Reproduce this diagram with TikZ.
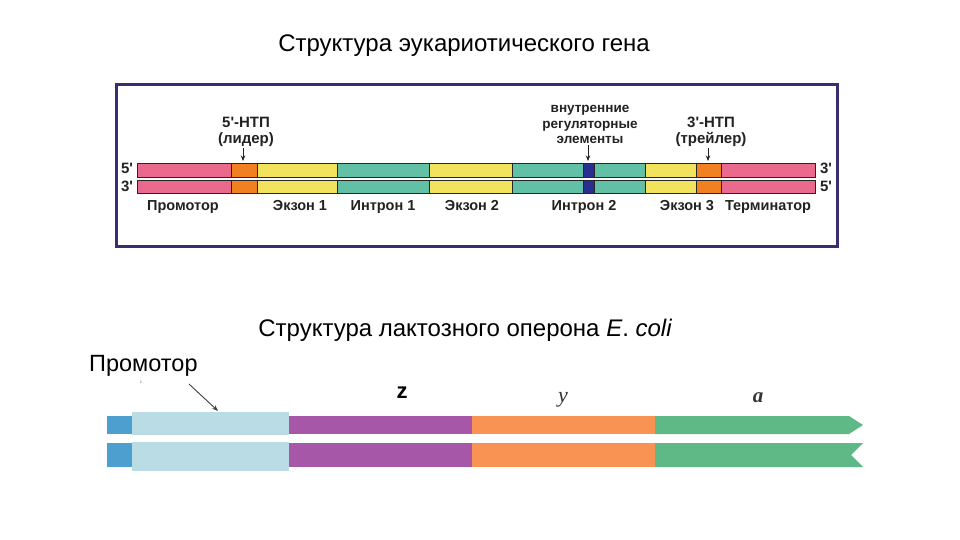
\documentclass[tikz,border=0pt]{standalone}
\usepackage{fontspec}
\setmainfont{Liberation Sans}
\newfontfamily\gsans{Liberation Sans}
\newfontfamily\serifit{Liberation Serif}
\usetikzlibrary{arrows.meta}
\definecolor{frame}{HTML}{3A2F6E}
\definecolor{gpink}{HTML}{EA6A8E}
\definecolor{gorange}{HTML}{F08020}
\definecolor{gyellow}{HTML}{F2E25E}
\definecolor{gteal}{HTML}{62C0A6}
\definecolor{gnavy}{HTML}{2A2E8E}
\definecolor{lblue}{HTML}{4C9FCF}
\definecolor{lpale}{HTML}{BADDE5}
\definecolor{lpurple}{HTML}{A657A8}
\definecolor{lorange}{HTML}{F99354}
\definecolor{lgreen}{HTML}{5EB986}
\definecolor{txt}{HTML}{222222}
\tikzset{
  seg/.style={draw=black!85,line width=0.6pt},
  title/.style={font=\fontsize{24}{26}\selectfont,inner sep=0pt,anchor=base},
  glabel/.style={font=\gsans\bfseries\fontsize{14.5}{17}\selectfont,text=txt,inner sep=0pt,anchor=base},
  slabel/.style={font=\gsans\bfseries\fontsize{13.5}{16}\selectfont,text=txt,inner sep=0pt,anchor=base},
  tlabel/.style={font=\gsans\bfseries\fontsize{15}{17}\selectfont,text=txt,inner sep=0pt,anchor=base},
  pointer/.style={-{Stealth[length=5.5pt,width=4.5pt]},line width=1pt,draw=txt},
}
\begin{document}
\begin{tikzpicture}[x=1pt,y=-1pt]
\useasboundingbox (0,0) rectangle (960,540);
\fill[white] (0,0) rectangle (960,540);
% ---------- titles
\node[title] (t1) at (464,52) {Структура эукариотического гена};
\node[title] (t2) at (465,336) {Структура лактозного оперона {\itshape E}. {\itshape coli}};
% ---------- frame
\draw[frame,line width=3pt,fill=white] (116,85) rectangle (837,246);
% ---------- eukaryotic gene strands
\foreach \ya/\yb in {163/177,180/193}{
  \filldraw[seg,fill=gpink]   (137,\ya) rectangle (231,\yb);
  \filldraw[seg,fill=gorange] (231,\ya) rectangle (257,\yb);
  \filldraw[seg,fill=gyellow] (257,\ya) rectangle (337,\yb);
  \filldraw[seg,fill=gteal]   (337,\ya) rectangle (429,\yb);
  \filldraw[seg,fill=gyellow] (429,\ya) rectangle (512,\yb);
  \filldraw[seg,fill=gteal]   (512,\ya) rectangle (583,\yb);
  \filldraw[seg,fill=gnavy]   (583,\ya) rectangle (594,\yb);
  \filldraw[seg,fill=gteal]   (594,\ya) rectangle (645,\yb);
  \filldraw[seg,fill=gyellow] (645,\ya) rectangle (696,\yb);
  \filldraw[seg,fill=gorange] (696,\ya) rectangle (721,\yb);
  \filldraw[seg,fill=gpink]   (721,\ya) rectangle (815,\yb);
}
\node[tlabel] (l5a) at (127,174) {5'};
\node[tlabel] (l3a) at (127,191.5) {3'};
\node[tlabel] (r3a) at (826,174) {3'};
\node[tlabel] (r5a) at (826,191.5) {5'};
% labels below
\node[glabel] (prom) at (183,210.5) {Промотор};
\node[glabel] (ex1) at (300,210.5) {Экзон 1};
\node[glabel] (in1) at (383,210.5) {Интрон 1};
\node[glabel] (ex2) at (472,210.5) {Экзон 2};
\node[glabel] (in2) at (584,210.5) {Интрон 2};
\node[glabel] (ex3) at (687,210.5) {Экзон 3};
\node[glabel] (term) at (768,210.5) {Терминатор};
% labels above
\node[tlabel] (ntp5a) at (246,128) {5'-НТП};
\node[tlabel] (ntp5b) at (246,143.5) {(лидер)};
\node[slabel] (vrea) at (590,113) {внутренние};
\node[slabel] (vreb) at (590,129) {регуляторные};
\node[slabel] (vrec) at (590,144) {элементы};
\node[tlabel] (ntp3a) at (711,128) {3'-НТП};
\node[tlabel] (ntp3b) at (711,143.5) {(трейлер)};
\coordinate (c5) at (243,161);
\coordinate (cv) at (588,161);
\coordinate (c3) at (708,161);
\draw[pointer] (ntp5b.south -| c5) ++(0,1) -- (c5);
\draw[pointer] (vrec.south -| cv) ++(0,1) -- (cv);
\draw[pointer] (ntp3b.south -| c3) ++(0,1) -- (c3);
% ---------- lac operon
\node[font=\fontsize{23.5}{26}\selectfont,inner sep=0pt,anchor=base west] (promo) at (89,371) {Промотор};
\node[font=\fontsize{4}{4}\selectfont,text=black!60,inner sep=0pt] (tick) at (141,382) {1};
\foreach \ya/\yb in {416/434,443/467}{
  \fill[lblue] (107,\ya) rectangle (132,\yb);
  \fill[lpurple] (289,\ya) rectangle (472,\yb);
  \fill[lorange] (472,\ya) rectangle (655,\yb);
}
\fill[lpale] (132,412) rectangle (289,435);
\fill[lpale] (132,442) rectangle (289,471);
\fill[lgreen] (655,416) -- (849,416) -- (863,425) -- (849,434) -- (655,434) -- cycle;
\fill[lgreen] (655,443) -- (863,443) -- (851,455) -- (863,467) -- (655,467) -- cycle;
\coordinate (pz) at (218,411);
\draw[-{Stealth[length=6pt,width=4.5pt]},line width=0.9pt,draw=black!75] (189,384) -- (pz);
\node[font=\bfseries\fontsize{22}{24}\selectfont,inner sep=0pt,anchor=base] (z) at (402,398) {z};
\node[font=\serifit\itshape\fontsize{22}{24}\selectfont,text=black!80,inner sep=0pt,anchor=base] (y) at (563,402) {y};
\node[font=\serifit\bfseries\itshape\fontsize{21}{24}\selectfont,text=black!80,inner sep=0pt,anchor=base] (a) at (758,402) {a};
\end{tikzpicture}
\end{document}
